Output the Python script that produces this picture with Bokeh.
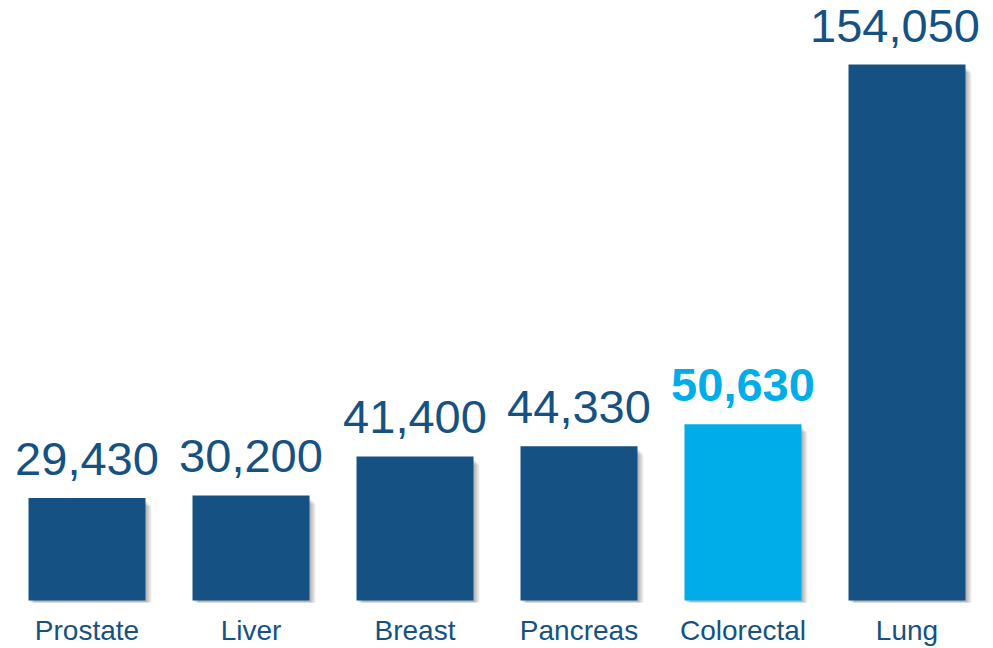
from bokeh.plotting import figure
from bokeh.models import Range1d, FixedTicker, ColumnDataSource
from bokeh.core.properties import value
from bokeh.embed import file_html
from bokeh.resources import INLINE

categories = ["Prostate", "Liver", "Breast", "Pancreas", "Colorectal", "Lung"]
deaths = [29430, 30200, 41400, 44330, 50630, 154050]
labels = ["29,430", "30,200", "41,400", "44,330", "50,630", "154,050"]
highlight = [False, False, False, False, True, False]

DARK = "#155283"
LIGHT = "#00ADE9"
FONT = "Liberation Sans"

# pixel geometry helpers
px_x = 1 / 164.0          # data units per pixel, x
px_y = 154050 / 536.0     # data units per pixel, y

W, H = 990, 648
p = figure(width=W, height=H, output_backend="svg", toolbar_location=None,
           x_range=Range1d(-86.5 * px_x, -86.5 * px_x + W * px_x),
           y_range=Range1d(-3 * px_y, 600 * px_y),
           min_border_left=0, min_border_right=0, min_border_top=0,
           min_border_bottom=H - 603)
p.outline_line_color = None
p.grid.visible = False
p.yaxis.visible = False
p.background_fill_color = "white"
p.border_fill_color = "white"

xs = list(range(len(categories)))
bw = 117 / 164.0

# soft drop shadow (layered translucent quads)
for k in range(1, 7):
    p.quad(left=[x - bw / 2 + k * px_x for x in xs],
           right=[x + bw / 2 + k * px_x for x in xs],
           top=[v - (2 + k) * px_y for v in deaths],
           bottom=[-min(k, 2) * px_y for _ in deaths],
           fill_color="black", fill_alpha=0.055, line_color=None)

colors = [LIGHT if h else DARK for h in highlight]
p.vbar(x=xs, top=deaths, width=bw, bottom=0, fill_color=colors, line_color=None)

# keep the widest (last) label inside the right edge
nudge = [0] * (len(xs) - 1) + [-12]
src = ColumnDataSource(dict(
    x=xs, y=deaths, t=labels,
    c=colors,
    fs=["bold" if h else "normal" for h in highlight],
    dx=nudge,
))
p.text(x="x", y="y", text="t", source=src, text_color="c", text_font_style="fs",
       text_font=value(FONT), text_font_size="47px", text_align="center",
       text_baseline="alphabetic", x_offset="dx", y_offset=-39)

p.xaxis.ticker = FixedTicker(ticks=xs)
p.xaxis.major_label_overrides = {i: c for i, c in enumerate(categories)}
p.xaxis.axis_line_color = None
p.xaxis.major_tick_line_color = None
p.xaxis.minor_tick_line_color = None
p.xaxis.major_tick_out = 0
p.xaxis.major_tick_in = 0
p.xaxis.major_label_standoff = 11
p.xaxis.major_label_text_font = FONT
p.xaxis.major_label_text_font_size = "28px"
p.xaxis.major_label_text_color = DARK

open("out.html", "w").write(file_html(p, INLINE))
